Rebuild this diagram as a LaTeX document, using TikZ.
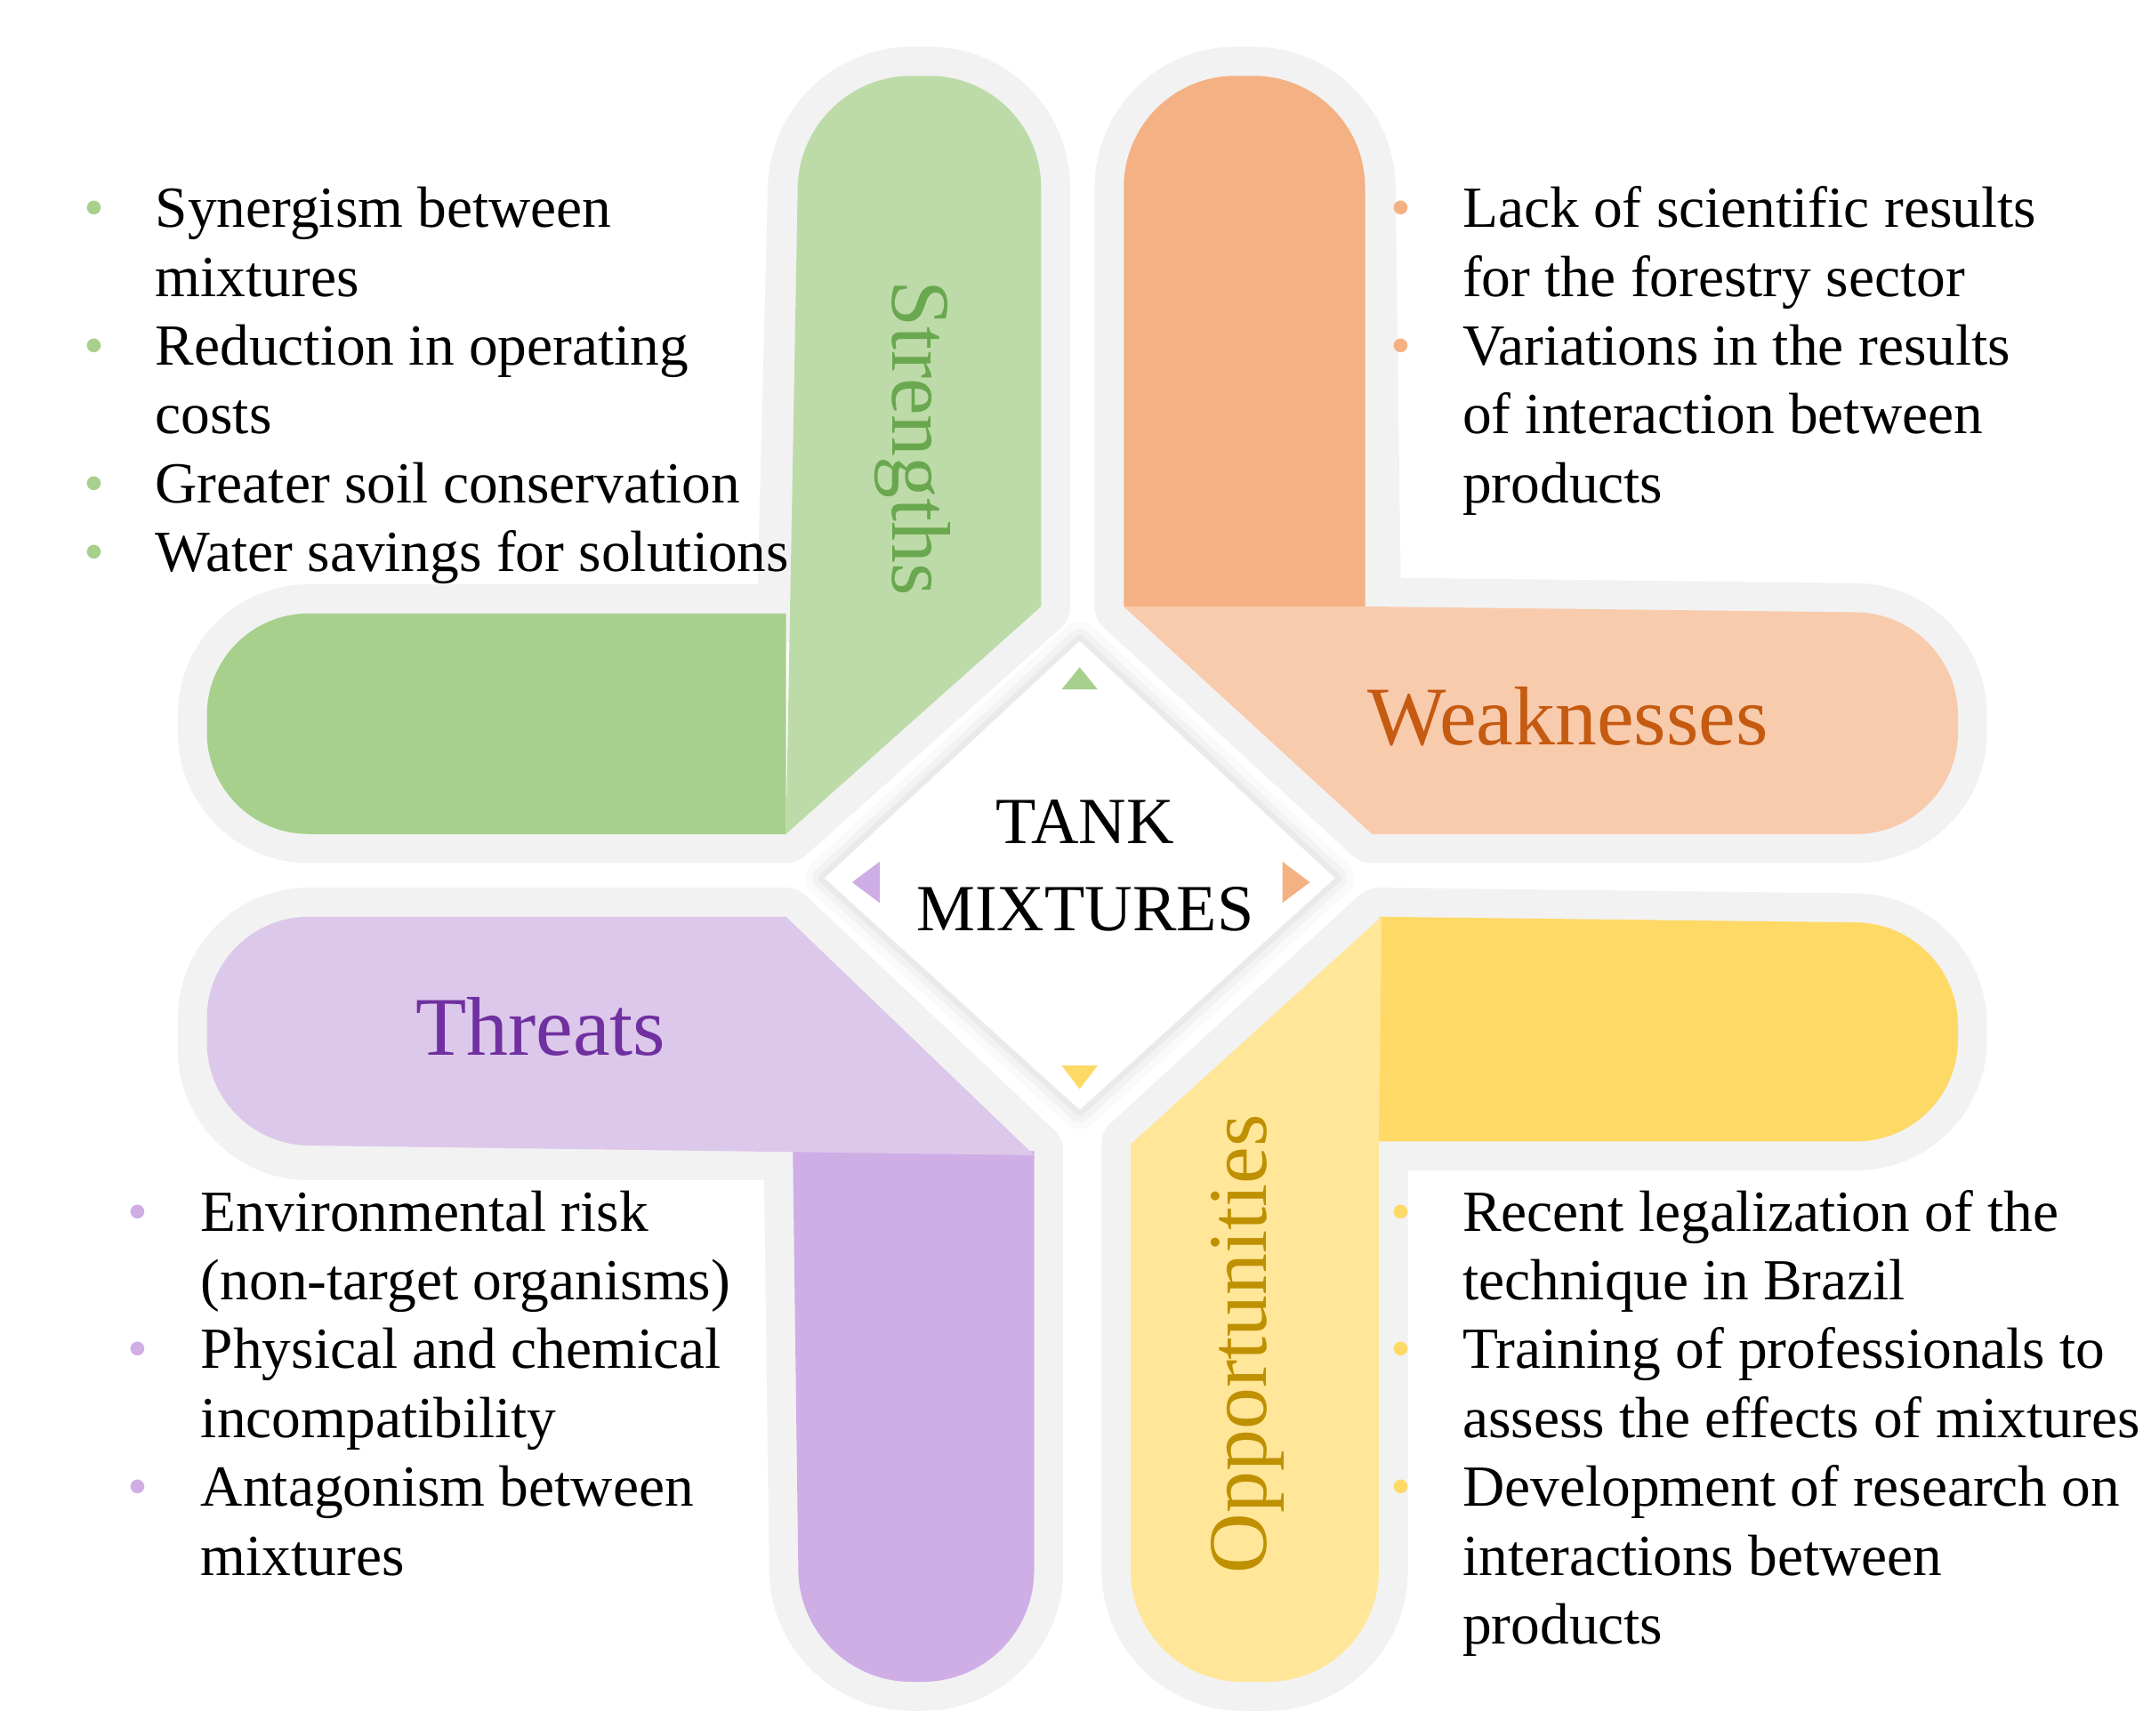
\documentclass[tikz,border=0pt]{standalone}
\usepackage{fontspec}
\setmainfont{Liberation Serif}
\usetikzlibrary{shadows}
\definecolor{grnL}{HTML}{BDDBA8}
\definecolor{grnD}{HTML}{A8D08D}
\definecolor{grnT}{HTML}{6AA84F}
\definecolor{orL}{HTML}{F8CBAD}
\definecolor{orD}{HTML}{F4B183}
\definecolor{orT}{HTML}{C55A11}
\definecolor{puL}{HTML}{DCC8EA}
\definecolor{puD}{HTML}{CFAEE6}
\definecolor{puT}{HTML}{7030A0}
\definecolor{yeL}{HTML}{FFE699}
\definecolor{yeD}{HTML}{FFD966}
\definecolor{yeT}{HTML}{BF9000}
\tikzset{
  halo/.style={draw=gray!10, line width=12pt, line join=round},
  title/.style={font=\fontsize{17.2}{20}\selectfont},
  list/.style={anchor=base west, inner sep=0pt, font=\fontsize{12}{14.2}\selectfont}
}
\newcommand{\blt}[1]{\textcolor{#1}{\textbullet}}
\begin{document}
\begin{tikzpicture}[x=0.01cm, y=-0.01cm]
  \useasboundingbox (0,0) rectangle (1560,1259);

  % halos
  \foreach \p in {{(755,440) [rounded corners=23pt]-- (755,55) -- (580,55) [sharp corners]-- (570,445) [rounded corners=21pt]-- (150,445) -- (150,605) [sharp corners]-- (570,605) -- cycle},
                  {(815,440) [rounded corners=23pt]-- (815,55) -- (990,55) [sharp corners]-- (995,440) [rounded corners=21pt]-- (1420,445) -- (1420,605) [sharp corners]-- (995,605) -- cycle},
                  {(570,665) [rounded corners=21pt]-- (150,665) -- (150,835) [sharp corners]-- (575,835) [rounded corners=23pt]-- (580,1220) -- (750,1220) [sharp corners]-- (750,835) -- cycle},
                  {(1000,665) [rounded corners=21pt]-- (1420,670) -- (1420,828) [sharp corners]-- (1000,828) [rounded corners=23pt]-- (1000,1220) -- (820,1220) [sharp corners]-- (820,830) -- cycle}}
    \draw[halo] \p;

  % Strengths
  \fill[grnD] (570,445) [rounded corners=21pt]-- (150,445) -- (150,605) [sharp corners]-- (570,605) -- cycle;
  \fill[grnL] (755,440) [rounded corners=23pt]-- (755,55) -- (580,55) [sharp corners]-- (570,605) -- cycle;
  % Weaknesses
  \fill[orD] (990,440) [rounded corners=23pt]-- (990,55) -- (815,55) [sharp corners]-- (815,440) -- cycle;
  \fill[orL] (815,440) -- (995,440) [rounded corners=21pt]-- (1420,445) -- (1420,605) [sharp corners]-- (995,605) -- cycle;
  % Threats
  \fill[puD] (575,835) [rounded corners=23pt]-- (580,1220) -- (750,1220) [sharp corners]-- (750,835) -- cycle;
  \fill[puL] (570,665) [rounded corners=21pt]-- (150,665) -- (150,830) [sharp corners]-- (750,838) -- cycle;
  % Opportunities
  \fill[yeD] (1000,665) [rounded corners=21pt]-- (1420,670) -- (1420,828) [sharp corners]-- (1000,828) -- cycle;
  \fill[yeL] (1002,665) -- (1000,828) [rounded corners=23pt]-- (1000,1220) -- (820,1220) [sharp corners]-- (820,830) -- cycle;

  % centre diamond
  \foreach \w/\o in {8/0.04,5/0.06,2.5/0.08}
    \draw[gray, opacity=\o, line width=\w pt, line join=round] (783,465) -- (968,637) -- (783,805) -- (598,637) -- cycle;
  \fill[white] (783,465) -- (968,637) -- (783,805) -- (598,637) -- cycle;
  \fill[grnD] (770,500) -- (796,500) -- (783,484) -- cycle;
  \fill[orD] (930,625) -- (930,655) -- (950,640) -- cycle;
  \fill[yeD] (770,773) -- (796,773) -- (783,790) -- cycle;
  \fill[puD] (638,625) -- (638,655) -- (618,640) -- cycle;
  \node[align=center, font=\fontsize{13.6}{18}\selectfont] (tank) at (787,628) {TANK\\MIXTURES};

  % titles
  \node[title, text=grnT, rotate=-90] (str) at (662,318) {Strengths};
  \node[title, text=orT] (wea) at (1137,520) {Weaknesses};
  \node[title, text=puT] (thr) at (392,745) {Threats};
  \node[title, text=yeT, rotate=90] (opp) at (905,975) {Opportunities};

  % lists
  \node[list] (strL) at (60,165) {\begin{tabular}[t]{@{}p{0.52cm}@{}l@{}}
    \blt{grnD} & Synergism between\\ & mixtures\\
    \blt{grnD} & Reduction in operating\\ & costs\\
    \blt{grnD} & Greater soil conservation\\
    \blt{grnD} & Water savings for solutions\end{tabular}};
  \node[list] (weaL) at (1008,165) {\begin{tabular}[t]{@{}p{0.52cm}@{}l@{}}
    \blt{orD} & Lack of scientific results\\ & for the forestry sector\\
    \blt{orD} & Variations in the results\\ & of interaction between\\ & products\end{tabular}};
  \node[list] (thrL) at (92,893) {\begin{tabular}[t]{@{}p{0.53cm}@{}l@{}}
    \blt{puD} & Environmental risk\\ & (non-target organisms)\\
    \blt{puD} & Physical and chemical\\ & incompatibility\\
    \blt{puD} & Antagonism between\\ & mixtures\end{tabular}};
  \node[list] (oppL) at (1008,893) {\begin{tabular}[t]{@{}p{0.52cm}@{}l@{}}
    \blt{yeD} & Recent legalization of the\\ & technique in Brazil\\
    \blt{yeD} & Training of professionals to\\ & assess the effects of mixtures\\
    \blt{yeD} & Development of research on\\ & interactions between\\ & products\end{tabular}};
\end{tikzpicture}
\end{document}
